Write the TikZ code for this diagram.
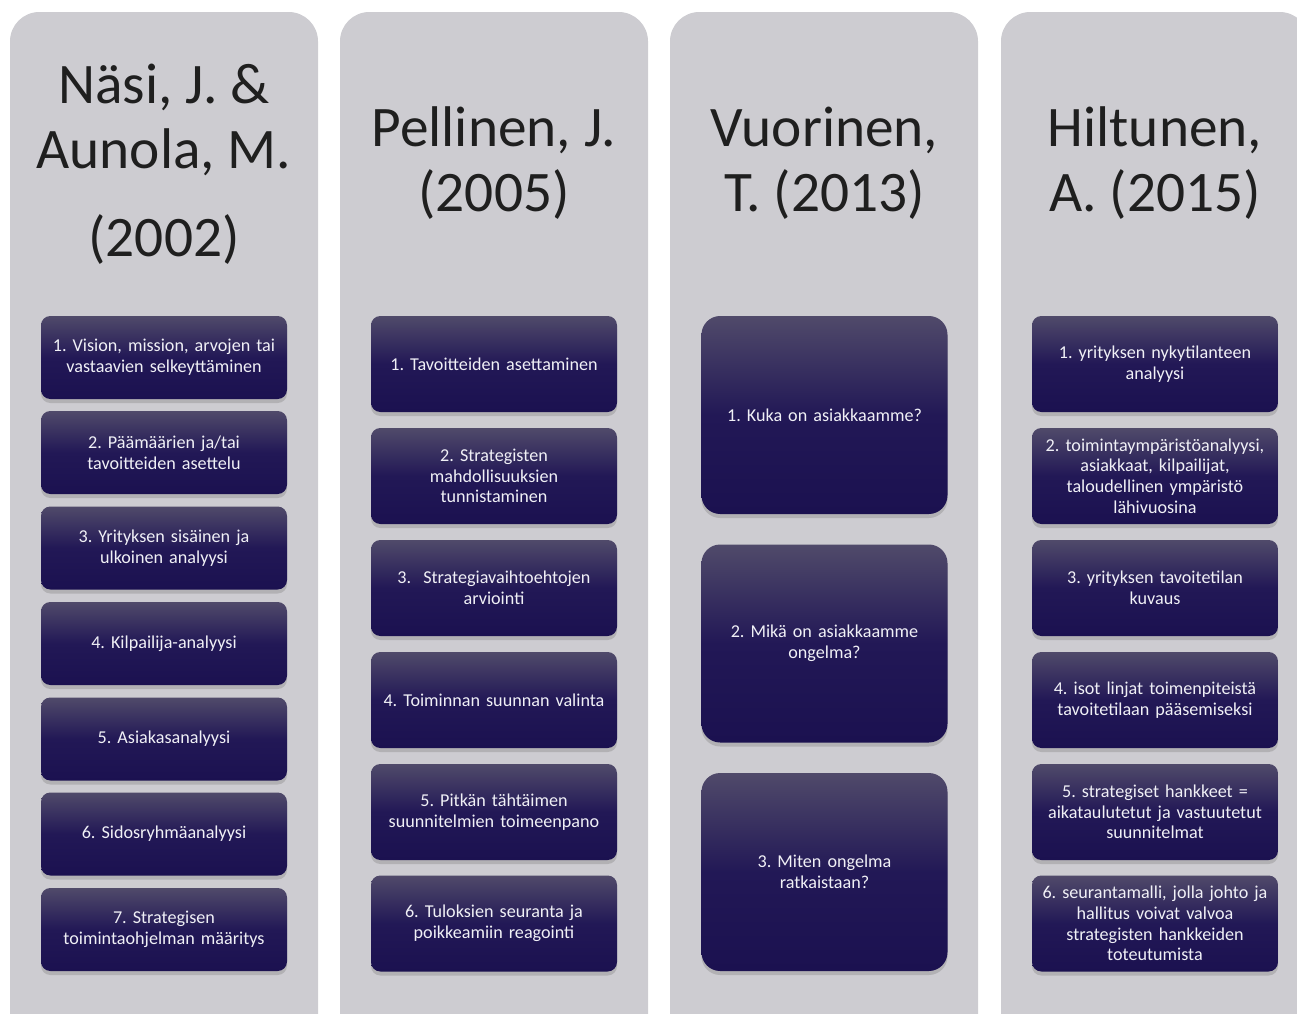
\documentclass[tikz,border=0pt]{standalone}
\usepackage{fontspec}
\setmainfont{Carlito}
\usetikzlibrary{shadows}
\frenchspacing

\definecolor{colgrey}{RGB}{205,204,209}
\definecolor{boxtop}{RGB}{80,74,106}
\definecolor{boxmid}{RGB}{34,24,86}
\definecolor{boxbot}{RGB}{27,17,80}
\definecolor{boxtext}{RGB}{240,240,246}

\tikzset{
  column/.style={fill=colgrey, rounded corners=22pt},
  title/.style={font=\fontsize{43}{49}\selectfont, text=black!88, align=center},
  stepbox/.style={rounded corners=7pt, top color=boxtop, bottom color=boxbot,
    middle color=boxmid, drop shadow={opacity=0.35, shadow xshift=0pt, shadow yshift=-3pt},
    minimum width=184.5pt, text width=178pt, align=center, inner sep=0pt,
    font=\fontsize{13.6}{15.5}\selectfont, text=boxtext},
  shortbox/.style={stepbox, minimum height=62.25pt},
  midbox/.style={stepbox, minimum height=72pt},
  tallbox/.style={stepbox, minimum height=148.5pt, rounded corners=14pt},
}

\begin{document}
\begin{tikzpicture}[x=0.75pt,y=-0.75pt]
\useasboundingbox (0,0) rectangle (1297,1014);
\clip (0,0) rectangle (1297,1014);

% columns
\fill[column] (10,12) rectangle (318,1060);
\fill[column] (340,12) rectangle (648,1060);
\fill[column] (670,12) rectangle (978,1060);
\fill[column] (1001,12) rectangle (1309,1060);

% titles
\node[title] (tNasi) at (164,164) {Näsi, J. \&\\Aunola, M.\\[17pt](2002)};
\node[title] (tPellinen) at (494,163) {Pellinen, J.\\(2005)};
\node[title] (tVuorinen) at (824.5,163) {Vuorinen,\\T. (2013)};
\node[title] (tHiltunen) at (1155,163) {Hiltunen,\\A. (2015)};

% Näsi & Aunola
\node[shortbox] (nasi1) at (164,357.5) {1. Vision, mission, arvojen tai\\vastaavien selkeyttäminen};
\node[shortbox] (nasi2) at (164,452.5) {2. Päämäärien ja/tai\\tavoitteiden asettelu};
\node[shortbox] (nasi3) at (164,548) {3. Yrityksen sisäinen ja\\ulkoinen analyysi};
\node[shortbox] (nasi4) at (164,643.5) {4. Kilpailija-analyysi};
\node[shortbox] (nasi5) at (164,739) {5. Asiakasanalyysi};
\node[shortbox] (nasi6) at (164,834) {6. Sidosryhmäanalyysi};
\node[shortbox] (nasi7) at (164,929.5) {7. Strategisen\\toimintaohjelman määritys};

% Pellinen
\node[midbox] (pel1) at (494,364) {1. Tavoitteiden asettaminen};
\node[midbox] (pel2) at (494,476) {2. Strategisten\\mahdollisuuksien\\tunnistaminen};
\node[midbox] (pel3) at (494,588) {3.\ \ Strategiavaihtoehtojen\\arviointi};
\node[midbox] (pel4) at (494,700) {4. Toiminnan suunnan valinta};
\node[midbox] (pel5) at (494,812) {5. Pitkän tähtäimen\\suunnitelmien toimeenpano};
\node[midbox] (pel6) at (494,923.5) {6. Tuloksien seuranta ja\\poikkeamiin reagointi};

% Vuorinen
\node[tallbox] (vuo1) at (824.5,415) {1. Kuka on asiakkaamme?};
\node[tallbox] (vuo2) at (824.5,643.5) {2. Mikä on asiakkaamme\\ongelma?};
\node[tallbox] (vuo3) at (824.5,872) {3. Miten ongelma\\ratkaistaan?};

% Hiltunen
\node[midbox] (hil1) at (1155,364) {1. yrityksen nykytilanteen\\analyysi};
\node[midbox] (hil2) at (1155,476) {2. toimintaympäristöanalyysi,\\asiakkaat, kilpailijat,\\taloudellinen ympäristö\\lähivuosina};
\node[midbox] (hil3) at (1155,588) {3. yrityksen tavoitetilan\\kuvaus};
\node[midbox] (hil4) at (1155,700) {4. isot linjat toimenpiteistä\\tavoitetilaan pääsemiseksi};
\node[midbox] (hil5) at (1155,812) {5. strategiset hankkeet =\\aikataulutetut ja vastuutetut\\suunnitelmat};
\node[midbox] (hil6) at (1155,923.5) {6. seurantamalli, jolla johto ja\\hallitus voivat valvoa\\strategisten hankkeiden\\toteutumista};
\end{tikzpicture}
\end{document}
